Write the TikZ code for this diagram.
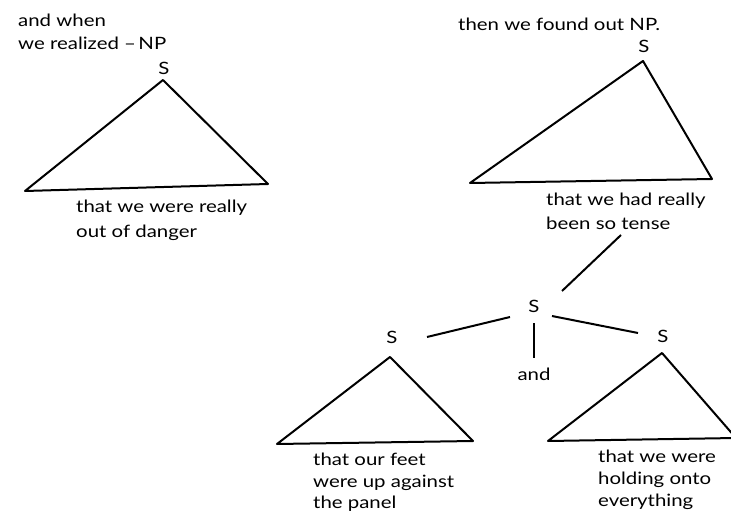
\documentclass[tikz,border=0pt]{standalone}
\usepackage{fontspec}
\setmainfont{Lato}[FakeStretch=1.2]
\begin{document}
\begin{tikzpicture}[x=1pt,y=-1pt,
  tri/.style={line width=2pt,line join=round},
  edge/.style={line width=2pt},
  txt/.style={anchor=base west,inner sep=0pt,font=\fontsize{17}{20}\selectfont},
  cat/.style={anchor=base,inner sep=0pt,font=\fontsize{17}{20}\selectfont}]
\useasboundingbox (0,0) rectangle (731,513);
% left tree
\node[txt] (t1a) at (18,27) {and when};
\node[txt] (t1b) at (18,50) {we realized\hspace{0.3em}–\hspace{0.15em}NP};
\node[cat] (s1) at (164,75) {S};
\coordinate (a1) at (163,80);
\coordinate (b1) at (25,191);
\coordinate (c1) at (268,184);
\draw[tri] (a1) -- (b1) -- (c1) -- cycle;
\node[txt] (u1a) at (76,213) {that we were really};
\node[txt] (u1b) at (76,237) {out of danger};
% right upper tree
\node[txt] (t2) at (458,31) {then we found out NP.};
\node[cat] (s2) at (644,53) {S};
\coordinate (a2) at (643,61);
\coordinate (b2) at (470,183);
\coordinate (c2) at (712,179);
\draw[tri] (a2) -- (b2) -- (c2) -- cycle;
\node[txt] (u2a) at (546,206) {that we had really};
\node[txt] (u2b) at (546,230) {been so tense};
% conjunction
\node[cat] (s3) at (534,312) {S};
\coordinate (l0) at (621,235);
\coordinate (l1) at (562,291);
\draw[edge] (l0) -- (l1);
\coordinate (p1) at (510,317);
\coordinate (p2) at (427,337);
\draw[edge] (p1) -- (p2);
\coordinate (q1) at (552,316);
\coordinate (q2) at (638,333);
\draw[edge] (q1) -- (q2);
\coordinate (r1) at (534,323);
\coordinate (r2) at (534,358);
\draw[edge] (r1) -- (r2);
\node[cat] (and) at (534,380) {and};
% bottom left
\node[cat] (s4) at (392,343) {S};
\coordinate (a4) at (390,357);
\coordinate (b4) at (277,444);
\coordinate (c4) at (473,441);
\draw[tri] (a4) -- (b4) -- (c4) -- cycle;
\node[txt] (u4a) at (313,465) {that our feet};
\node[txt] (u4b) at (313,487) {were up against};
\node[txt] (u4c) at (313,508) {the panel};
% bottom right
\node[cat] (s5) at (663,342) {S};
\coordinate (a5) at (662,353);
\coordinate (b5) at (548,441);
\coordinate (c5) at (736,438);
\draw[tri] (a5) -- (b5) -- (c5) -- cycle;
\node[txt] (u5a) at (598,462) {that we were};
\node[txt] (u5b) at (598,484) {holding onto};
\node[txt] (u5c) at (598,506) {everything};
\end{tikzpicture}
\end{document}
